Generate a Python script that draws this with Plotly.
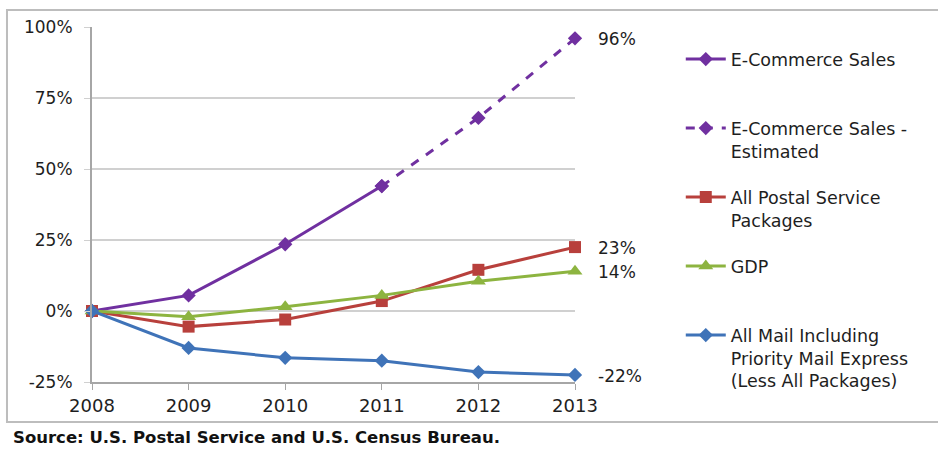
import plotly.graph_objects as go

years = [2008, 2009, 2010, 2011, 2012, 2013]
ecommerce_actual = [0.0, 0.055, 0.235, 0.44]
ecommerce_est_years = [2011, 2012, 2013]
ecommerce_est = [0.44, 0.68, 0.96]
postal_packages = [0.0, -0.055, -0.03, 0.035, 0.145, 0.225]
gdp = [0.0, -0.02, 0.015, 0.055, 0.105, 0.14]
all_mail = [0.0, -0.13, -0.165, -0.175, -0.215, -0.225]
end_labels = ["96%", "23%", "14%", "-22%"]
y_ticks = [-0.25, 0, 0.25, 0.5, 0.75, 1.0]
y_tick_labels = ["-25%", "0%", "25%", "50%", "75%", "100%"]

PURPLE = "#7030A0"
RED = "#B8403C"
GREEN = "#8DB440"
BLUE = "#3F73B8"
TEXT = "#1e1e1e"
FONT = "DejaVu Sans"

fig = go.Figure()
fig.add_trace(go.Scatter(x=years[:4], y=ecommerce_actual, mode="lines+markers",
                         name="E-Commerce Sales<br>&nbsp;", legendgroup="a",
                         line=dict(color=PURPLE, width=3),
                         marker=dict(symbol="diamond", size=11, color=PURPLE),
                         cliponaxis=False))
fig.add_trace(go.Scatter(x=ecommerce_est_years, y=ecommerce_est, mode="lines+markers",
                         name="E-Commerce Sales -<br>Estimated", legendgroup="b",
                         line=dict(color=PURPLE, width=3, dash="dash"),
                         marker=dict(symbol="diamond", size=11, color=PURPLE),
                         cliponaxis=False))
fig.add_trace(go.Scatter(x=years, y=postal_packages, mode="lines+markers",
                         name="All Postal Service<br>Packages", legendgroup="c",
                         line=dict(color=RED, width=3),
                         marker=dict(symbol="square", size=12, color=RED),
                         cliponaxis=False))
fig.add_trace(go.Scatter(x=years, y=gdp, mode="lines+markers",
                         name="GDP<br>&nbsp;", legendgroup="d",
                         line=dict(color=GREEN, width=3),
                         marker=dict(symbol="triangle-up", size=13, color=GREEN),
                         cliponaxis=False))
fig.add_trace(go.Scatter(x=years, y=all_mail, mode="lines+markers",
                         name="All Mail Including<br>Priority Mail Express<br>(Less All Packages)",
                         legendgroup="e",
                         line=dict(color=BLUE, width=3),
                         marker=dict(symbol="diamond", size=11, color=BLUE),
                         cliponaxis=False))

end_values = [ecommerce_est[-1], postal_packages[-1], gdp[-1], all_mail[-1]]
for lbl, v in zip(end_labels, end_values):
    fig.add_annotation(x=years[-1], y=v, text=lbl, showarrow=False,
                       xanchor="left", xshift=21, yshift=-1,
                       font=dict(family=FONT, size=17, color=TEXT))

fig.add_annotation(xref="paper", yref="paper", x=-0.168, y=-0.155,
                   xanchor="left", yanchor="middle", showarrow=False,
                   text="Source: U.S. Postal Service and U.S. Census Bureau.",
                   font=dict(family=FONT, size=16.5, color="#111111", weight="bold"))

# outer chart border
fig.add_shape(type="rect", xref="paper", yref="paper",
              x0=-0.176, x1=1.76, y0=-0.113, y1=1.048,
              line=dict(color="#bdbdbd", width=2), layer="below")

fig.update_layout(
    width=938, height=453,
    margin=dict(l=92, r=363, t=27, b=71),
    paper_bgcolor="white", plot_bgcolor="white",
    font=dict(family=FONT, size=17, color=TEXT),
    showlegend=True,
    legend=dict(x=1.219, y=0.96, xanchor="left", yanchor="top",
                traceorder="grouped", tracegroupgap=20.5, valign="top",
                itemwidth=40, maxheight=440,
                font=dict(family=FONT, size=17.5, color=TEXT)),
    xaxis=dict(range=[2008, 2013], tickmode="array", tickvals=years,
               ticktext=[str(y) for y in years],
               showgrid=False, showline=True, linecolor="#a6a6a6", linewidth=2,
               ticks="outside", ticklen=6, tickcolor="#a6a6a6",
               tickfont=dict(family=FONT, size=18, color=TEXT), zeroline=False),
    yaxis=dict(range=[-0.25, 1.0], tickmode="array", tickvals=y_ticks,
               ticktext=y_tick_labels, showgrid=True, gridcolor="#d0d0d0", gridwidth=2,
               showline=True, linecolor="#a6a6a6", linewidth=2,
               ticks="outside", ticklen=6, tickcolor="#d0d0d0", ticklabelstandoff=8,
               tickfont=dict(family=FONT, size=17, color=TEXT), zeroline=False),
)

fig.write_html("out.html")
